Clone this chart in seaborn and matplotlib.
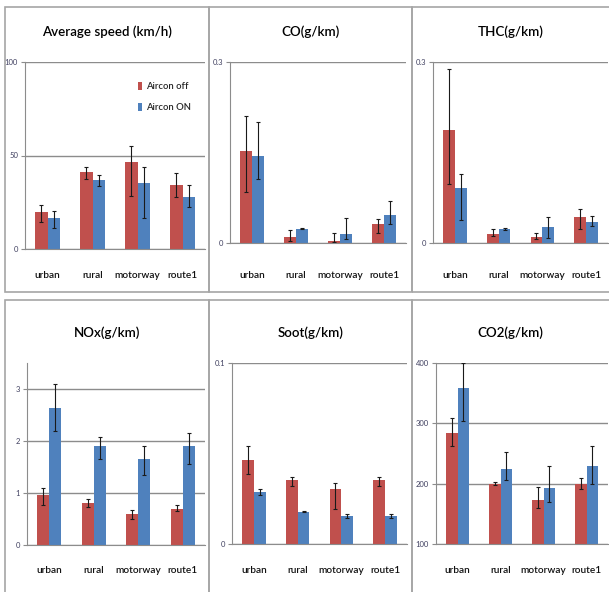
import numpy as np
import pandas as pd
import matplotlib
matplotlib.use("Agg")
import matplotlib.pyplot as plt
import seaborn as sns
from matplotlib.patches import Rectangle

sns.set_theme(style="white")
plt.rcParams["font.family"] = ["Lato", "DejaVu Sans"]

categories = ["urban", "rural", "motorway", "route1"]
conditions = ["Aircon off", "Aircon ON"]
colors = ["#C0504D", "#4F81BD"]

speed_off = [19.8, 41.0, 46.4, 34.1]
speed_on = [16.4, 36.7, 35.3, 27.8]
speed_off_lo = [14.4, 37.4, 28.5, 28.0]
speed_off_hi = [23.4, 43.7, 54.9, 40.5]
speed_on_lo = [11.2, 33.7, 16.8, 22.3]
speed_on_hi = [20.1, 39.4, 43.7, 34.1]

co_off = [0.153, 0.010, 0.004, 0.032]
co_on = [0.145, 0.024, 0.015, 0.047]
co_off_lo = [0.084, 0.003, 0.001, 0.017]
co_off_hi = [0.211, 0.022, 0.017, 0.040]
co_on_lo = [0.106, 0.023, 0.006, 0.032]
co_on_hi = [0.201, 0.025, 0.041, 0.070]

thc_off = [0.187, 0.015, 0.010, 0.043]
thc_on = [0.091, 0.023, 0.027, 0.035]
thc_off_lo = [0.098, 0.011, 0.007, 0.024]
thc_off_hi = [0.288, 0.023, 0.017, 0.056]
thc_on_lo = [0.038, 0.022, 0.008, 0.028]
thc_on_hi = [0.115, 0.025, 0.043, 0.045]

nox_off = [0.97, 0.80, 0.59, 0.70]
nox_on = [2.64, 1.90, 1.66, 1.90]
nox_off_lo = [0.76, 0.74, 0.50, 0.65]
nox_off_hi = [1.10, 0.88, 0.67, 0.76]
nox_on_lo = [2.19, 1.65, 1.35, 1.56]
nox_on_hi = [3.10, 2.07, 1.91, 2.15]

soot_off = [0.0462, 0.0352, 0.0303, 0.0352]
soot_on = [0.0288, 0.0178, 0.0156, 0.0156]
soot_off_lo = [0.0389, 0.0319, 0.0194, 0.0321]
soot_off_hi = [0.0539, 0.0372, 0.0339, 0.0372]
soot_on_lo = [0.0272, 0.0176, 0.0145, 0.0145]
soot_on_hi = [0.0303, 0.0180, 0.0165, 0.0165]

co2_off = [284, 200, 173, 200]
co2_on = [359, 224, 192, 230]
co2_off_lo = [263, 197, 160, 191]
co2_off_hi = [309, 202, 194, 210]
co2_on_lo = [304, 206, 170, 200]
co2_on_hi = [400, 253, 229, 263]

W, H = 609, 592
fig = plt.figure(figsize=(W / 100, H / 100), dpi=100)


def px_rect(x0, y0, x1, y1):
    return [x0 / W, 1 - y1 / H, (x1 - x0) / W, (y1 - y0) / H]


panels = [
    dict(title="Average speed (km/h)", off=speed_off, on=speed_on,
         off_lo=speed_off_lo, off_hi=speed_off_hi, on_lo=speed_on_lo, on_hi=speed_on_hi,
         ylim=(0, 100), yticks=[0, 50, 100], ylabels=["0", "50", "100"],
         rect=(25, 62, 205, 249), box=(5, 7, 209, 292), label_y=276, title_y=32),
    dict(title="CO(g/km)", off=co_off, on=co_on,
         off_lo=co_off_lo, off_hi=co_off_hi, on_lo=co_on_lo, on_hi=co_on_hi,
         ylim=(0, 0.3), yticks=[0, 0.3], ylabels=["0", "0.3"],
         rect=(230, 62, 406, 243), box=(209, 7, 412, 292), label_y=276, title_y=32),
    dict(title="THC(g/km)", off=thc_off, on=thc_on,
         off_lo=thc_off_lo, off_hi=thc_off_hi, on_lo=thc_on_lo, on_hi=thc_on_hi,
         ylim=(0, 0.3), yticks=[0, 0.3], ylabels=["0", "0.3"],
         rect=(433, 62, 608, 243), box=(412, 7, 612, 292), label_y=276, title_y=32),
    dict(title="NOx(g/km)", off=nox_off, on=nox_on,
         off_lo=nox_off_lo, off_hi=nox_off_hi, on_lo=nox_on_lo, on_hi=nox_on_hi,
         ylim=(0, 3.5), yticks=[0, 1, 2, 3], ylabels=["0", "1", "2", "3"],
         rect=(27, 363, 205, 545), box=(5, 300, 209, 596), label_y=571, title_y=333),
    dict(title="Soot(g/km)", off=soot_off, on=soot_on,
         off_lo=soot_off_lo, off_hi=soot_off_hi, on_lo=soot_on_lo, on_hi=soot_on_hi,
         ylim=(0, 0.1), yticks=[0, 0.1], ylabels=["0", "0.1"],
         rect=(232, 363, 407, 544), box=(209, 300, 412, 596), label_y=571, title_y=333),
    dict(title="CO2(g/km)", off=co2_off, on=co2_on,
         off_lo=co2_off_lo, off_hi=co2_off_hi, on_lo=co2_on_lo, on_hi=co2_on_hi,
         ylim=(100, 400), yticks=[100, 200, 300, 400], ylabels=["100", "200", "300", "400"],
         rect=(436, 363, 608, 544), box=(412, 300, 612, 596), label_y=571, title_y=333),
]

grid_c = "#8c8c8c"
box_c = "#a6a6a6"

for i, p in enumerate(panels):
    x0, y0, x1, y1 = p["rect"]
    ax = fig.add_axes(px_rect(x0, y0, x1, y1))
    df = pd.DataFrame({
        "category": categories * 2,
        "condition": [conditions[0]] * 4 + [conditions[1]] * 4,
        "value": list(p["off"]) + list(p["on"]),
    })
    sns.barplot(data=df, x="category", y="value", hue="condition",
                order=categories, hue_order=conditions, palette=colors,
                width=0.54, errorbar=None, ax=ax, legend=False,
                linewidth=0, saturation=1)
    for k, (vals, lo, hi) in enumerate([(p["off"], p["off_lo"], p["off_hi"]),
                                        (p["on"], p["on_lo"], p["on_hi"])]):
        bars = ax.containers[k]
        xs = [b.get_x() + b.get_width() / 2 for b in bars]
        vals = np.array(vals, dtype=float)
        yerr = [vals - np.array(lo), np.array(hi) - vals]
        ax.errorbar(xs, vals, yerr=yerr, fmt="none", ecolor="#1a1a1a",
                    elinewidth=0.8, capsize=1.6, capthick=0.8, clip_on=True)

    ax.set_xlim(-0.5, 3.5)
    ax.set_ylim(*p["ylim"])
    ax.set_yticks(p["yticks"])
    ax.set_yticklabels(p["ylabels"], fontsize=5.5, color="#404060")
    ax.set_xlabel("")
    ax.set_ylabel("")
    ax.set_xticks(range(4))
    ax.set_xticks([-0.5, 0.5, 1.5, 2.5, 3.5], minor=True)
    pad_pt = (p["label_y"] - 5 - y1) * 72 / 100
    ax.set_xticklabels(categories, fontsize=7.2, color="#111111", fontweight="semibold")
    ax.tick_params(axis="x", which="major", length=0, pad=pad_pt)
    ax.tick_params(axis="x", which="minor", length=4, color=grid_c, width=0.8, direction="out")
    ax.tick_params(axis="y", which="major", length=3, color=grid_c, width=0.8,
                   direction="out", pad=2, left=True)
    ax.yaxis.grid(True, color=grid_c, linewidth=1)
    ax.xaxis.grid(False)
    ax.set_axisbelow(True)
    for s in ["top", "right"]:
        ax.spines[s].set_visible(False)
    for s in ["left", "bottom"]:
        ax.spines[s].set_color(grid_c)
        ax.spines[s].set_linewidth(0.8)

    bx0, by0, bx1, by1 = p["box"]
    fig.add_artist(Rectangle((bx0 / W, 1 - by1 / H), (bx1 - bx0) / W, (by1 - by0) / H,
                             transform=fig.transFigure, fill=False,
                             edgecolor=box_c, linewidth=1.2))
    fig.text(((bx0 + min(bx1, 609)) / 2) / W, 1 - p["title_y"] / H, p["title"],
             ha="center", va="center", fontsize=9.6, color="black", fontweight="semibold")

    if i == 0:
        handles = [Rectangle((0, 0), 1, 1, facecolor=c, edgecolor="none") for c in colors]
        ax.legend(handles, conditions, loc="upper left",
                  bbox_to_anchor=(133 / W, 1 - 77 / H), bbox_transform=fig.transFigure,
                  frameon=False, handlelength=0.5, handleheight=0.9,
                  handletextpad=0.4, labelspacing=1.3, borderpad=0,
                  prop={"size": 6.8, "weight": "semibold"})

fig.savefig("out.png", dpi=100)
